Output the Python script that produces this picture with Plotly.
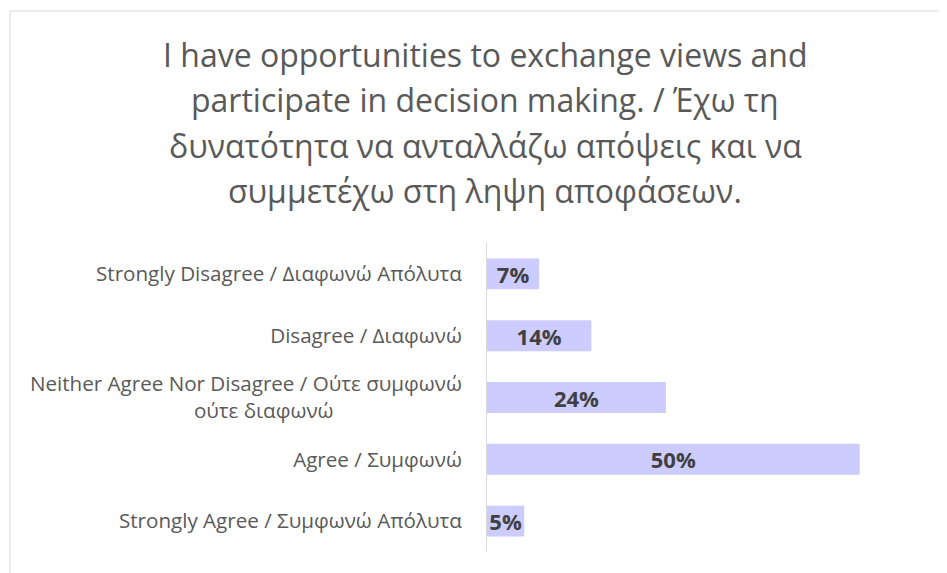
import plotly.graph_objects as go

# ── Data ──────────────────────────────────────────────
categories = [
    "Strongly Disagree / Διαφωνώ Απόλυτα",
    "Disagree / Διαφωνώ",
    "Neither Agree Nor Disagree / Ούτε συμφωνώ<br>ούτε διαφωνώ",
    "Agree / Συμφωνώ",
    "Strongly Agree / Συμφωνώ Απόλυτα",
]
shares = [7, 14, 24, 50, 5]
labels = [f"{v}%" for v in shares]

title_lines = [
    "I have opportunities to exchange views and",
    "participate in decision making. / Έχω τη",
    "δυνατότητα να ανταλλάζω απόψεις και να",
    "συμμετέχω στη ληψη αποφάσεων.",
]

# ── Layout helpers (pixel -> paper) ───────────────────
W, H = 947, 573
L, R, T, B = 479, 58, 235, 29
pw, ph = W - L - R, H - T - B
px = lambda x: (x - L) / pw
py = lambda y: (H - B - y) / ph

# wrapped tick label: pad the 2nd line so it sits centred like the original
tick_text = [c.replace("<br>ούτε διαφωνώ", "<br>ούτε διαφωνώ" + "\u00a0" * 24) for c in categories]

# ── Chart ─────────────────────────────────────────────
fig = go.Figure(go.Bar(
    x=shares, y=categories, orientation="h",
    marker=dict(color="#CCCCFF", line=dict(width=0)),
    text=labels, textposition="inside", insidetextanchor="middle",
    constraintext="none",
    textfont=dict(family="Open Sans", size=22, color="#404040", weight="bold"),
))

fig.update_layout(
    width=W, height=H,
    paper_bgcolor="white", plot_bgcolor="white",
    margin=dict(l=L, r=R, t=T, b=B),
    bargap=0.5,
    showlegend=False,
    font=dict(family="Open Sans", color="#595959"),
)
fig.update_xaxes(range=[0, 55], visible=False)
fig.update_yaxes(autorange="reversed", showline=True, linecolor="#D9D9D9",
                 linewidth=1, ticks="", ticklabelstandoff=20, automargin=False,
                 tickmode="array", tickvals=categories, ticktext=tick_text,
                 tickfont=dict(family="Open Sans", size=20.6, color="#595959"))

# title, one line per annotation for the wider line spacing
for i, line in enumerate(title_lines):
    fig.add_annotation(text=line, xref="paper", yref="paper",
                       x=px(477), y=py(46 + 45.5 * i), xanchor="center", yanchor="middle",
                       showarrow=False,
                       font=dict(family="Open Sans", size=32, color="#595959"))

# outer chart border
fig.add_shape(type="rect", xref="paper", yref="paper",
              x0=px(2), x1=px(W + 50), y0=py(H + 50), y1=py(3),
              line=dict(color="#D9D9D9", width=1), fillcolor="rgba(0,0,0,0)",
              layer="below")

fig.write_html("out.html")
